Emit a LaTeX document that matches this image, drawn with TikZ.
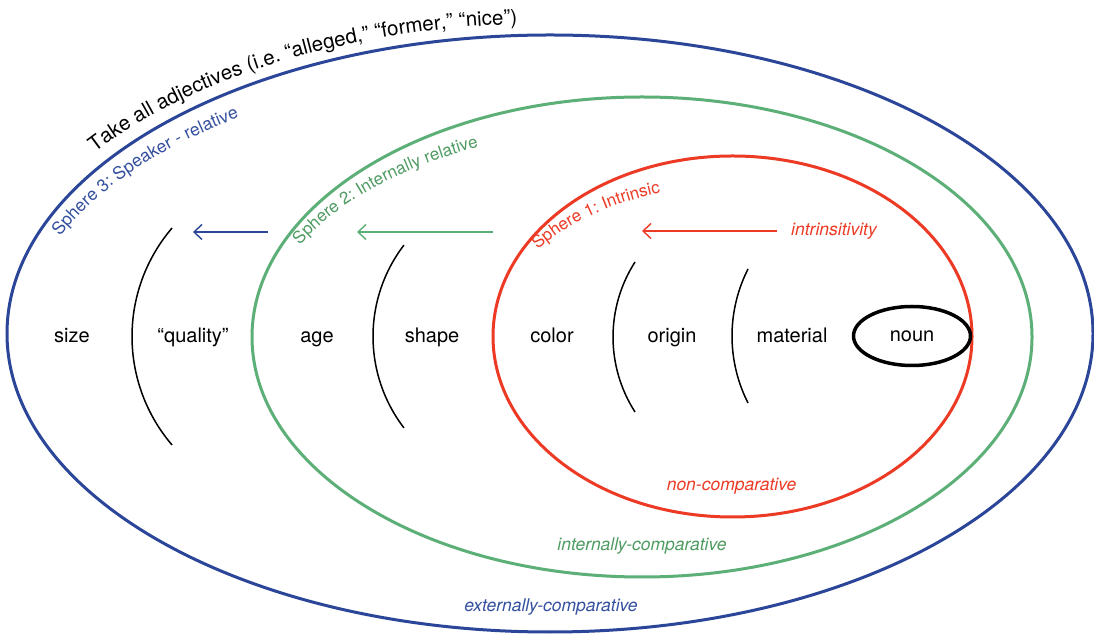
\documentclass[tikz,border=0pt]{standalone}
\usepackage{fontspec}
\setmainfont{TeX Gyre Heros}
\usetikzlibrary{decorations.text,arrows.meta,shapes.geometric}
\definecolor{sblue}{HTML}{2B4699}
\definecolor{sgreen}{HTML}{5DAF78}
\definecolor{sred}{HTML}{EC3A25}
\definecolor{tblue}{HTML}{34509F}
\definecolor{tgreen}{HTML}{4F9B62}
\definecolor{tred}{HTML}{EC3A25}
\begin{document}
\begin{tikzpicture}[x=1pt,y=1pt,
  sphere/.style={line width=3pt},
  word/.style={font=\fontsize{20}{24}\selectfont, anchor=base, inner sep=0pt},
  lbl/.style={font=\fontsize{17.5}{21}\selectfont\itshape, inner sep=0pt},
  divider/.style={line width=1.5pt},
  flow/.style={line width=1.4pt, -{Straight Barb[length=8pt,width=15pt]}}]
\useasboundingbox (0,0) rectangle (1094,634);
\fill[white] (0,0) rectangle (1094,634);

% spheres
\draw[sphere, sblue] (550,300.5) ellipse [x radius=543, y radius=298.5];
\draw[sphere, sgreen] (642,297) ellipse [x radius=390, y radius=240];
\draw[sphere, sred] (732.5,297.5) ellipse [x radius=239.5, y radius=180.5];

% curved labels
\path[decorate, decoration={text along path, text align=left,
  text={|\fontsize{20.5}{24}\selectfont|Take all adjectives (i.e. “alleged,” “former,” “nice”)}}]
  (550,300.5) ++(144.2:561 and 310) arc[start angle=144.2, end angle=50, x radius=561, y radius=310];
\path[decorate, decoration={text along path, text align=left,
  text={|\fontsize{17.5}{21}\selectfont\color{tblue}|Sphere 3: Speaker - relative}}]
  (550,300.5) ++(158.9:525 and 268) arc[start angle=158.9, end angle=90, x radius=525, y radius=268];
\path[decorate, decoration={text along path, text align=left,
  text={|\fontsize{17}{21}\selectfont\color{tgreen}|Sphere 2: Internally relative}}]
  (642,297) ++(154.2:380 and 210.6) arc[start angle=154.2, end angle=80, x radius=380, y radius=210.6];
\path[decorate, decoration={text along path, text align=left,
  text={|\fontsize{17}{21}\selectfont\color{tred}|Sphere 1: Intrinsic}}]
  (732.5,297.5) ++(145:237.6 and 150.7) arc[start angle=145, end angle=70, x radius=237.6, y radius=150.7];

% dividers
\draw[divider] (299,297.5) ++(139.5:167) arc[start angle=139.5, end angle=220.5, radius=167];
\draw[divider] (523.5,297.5) ++(142.6:150.5) arc[start angle=142.6, end angle=217.4, radius=150.5];
\draw[divider] (751.8,297) ++(147.3:138.8) arc[start angle=147.3, end angle=212.7, radius=138.8];
\draw[divider] (880.3,298) ++(153.1:148.3) arc[start angle=153.1, end angle=206.9, radius=148.3];

% words
\node[word] (size) at (72,291) {size};
\node[word] (quality) at (193,291) {“quality”};
\node[word] (age) at (317,291) {age};
\node[word] (shape) at (432,291) {shape};
\node[word] (color) at (552,291) {color};
\node[word] (origin) at (672,291) {origin};
\node[word] (material) at (792,291) {material};
\node[draw, ellipse, line width=3.5pt, minimum width=117pt, minimum height=59pt,
  inner sep=0pt, font=\fontsize{20}{24}\selectfont] (noun) at (912,298) {noun};

% arrows
\node[lbl, tred, anchor=west] (intr) at (791,403) {intrinsitivity};
\coordinate (r1) at (777,403);
\coordinate (r2) at (642,403);
\coordinate (g1) at (493,402);
\coordinate (g2) at (357,402);
\coordinate (b1) at (268,402);
\coordinate (b2) at (193,402);
\draw[flow, sred] (r1) -- (r2);
\draw[flow, sgreen] (g1) -- (g2);
\draw[flow, sblue] (b1) -- (b2);

% bottom labels
\node[lbl, tred] (nc) at (731.5,148) {non-comparative};
\node[lbl, tgreen] (ic) at (642,88) {internally-comparative};
\node[lbl, tblue] (ec) at (551,27) {externally-comparative};
\end{tikzpicture}
\end{document}
